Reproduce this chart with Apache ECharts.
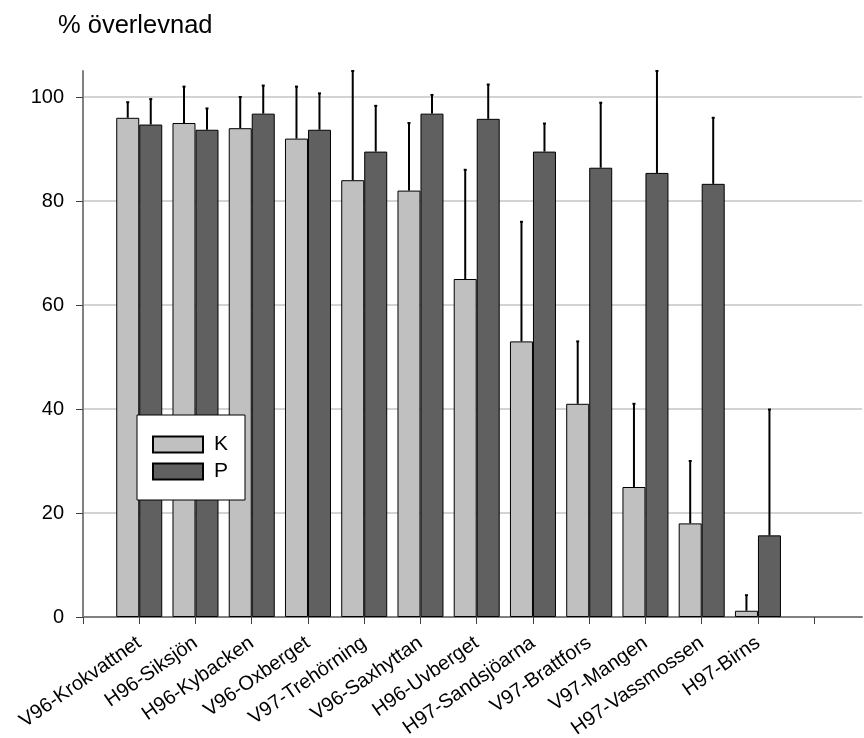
<!DOCTYPE html>
<html>
<head>
<meta charset="utf-8">
<title>% överlevnad</title>
<script src="https://cdn.jsdelivr.net/npm/echarts@6/dist/echarts.min.js"></script>
<style>
  html, body { margin: 0; padding: 0; background: #fff; }
  #chart { width: 864px; height: 738px; }
</style>
</head>
<body>
<div id="chart"></div>
<script>
// Sites (x positions 0..11 on the category scale)
const sites = [
  'V96-Krokvattnet', 'H96-Siksjön', 'H96-Kybacken', 'V96-Oxberget',
  'V97-Trehörning', 'V96-Saxhyttan', 'H96-Uvberget', 'H97-Sandsjöarna',
  'V97-Brattfors', 'V97-Mangen', 'H97-Vassmossen', 'H97-Birns'
];

// Survival (%) per site, group K and group P
const kMean = [96, 95, 94, 92, 84, 82, 65, 53, 41, 25, 18, 1.2];
const kErr  = [3, 7, 6, 10, 21, 13, 21, 23, 12, 16, 12, 3];
const pMean = [94.7, 93.7, 96.8, 93.7, 89.5, 96.8, 95.8, 89.5, 86.4, 85.4, 83.3, 15.7];
const pErr  = [4.9, 4.1, 5.4, 7, 8.8, 3.6, 6.6, 5.4, 12.5, 19.6, 12.7, 24.2];

// Y axis tick values
const yTicks = [0, 20, 40, 60, 80, 100];

const FONT = '"Liberation Sans", Arial, Helvetica, sans-serif';
const BAR_W = 23;

const xTicks = [-1].concat(sites.map((_, i) => i), [sites.length]);
const xLabels = sites.map((_, i) => i);

function pairs(vals) { return vals.map((v, i) => [i, v]); }
function errData(means, errs) { return means.map((m, i) => [i, m, errs[i]]); }

// Upward error whisker with a tiny cap, offset to the centre of its bar
function errorRenderer(shift) {
  return function (params, api) {
    const x = api.value(0);
    const m = api.value(1);
    const e = api.value(2);
    const base = api.coord([x, m]);
    const top = api.coord([x, m + e]);
    const cx = base[0] + shift;
    const lineStyle = { stroke: '#000', lineWidth: 2 };
    return {
      type: 'group',
      children: [
        { type: 'line', shape: { x1: cx, y1: base[1], x2: cx, y2: top[1] }, style: lineStyle },
        { type: 'line', shape: { x1: cx - 1.5, y1: top[1], x2: cx + 1.5, y2: top[1] }, style: lineStyle }
      ]
    };
  };
}

const chart = echarts.init(document.getElementById('chart'), null, { renderer: 'canvas' });

chart.setOption({
  animation: false,
  backgroundColor: '#fff',
  textStyle: { fontFamily: FONT, color: '#000' },
  title: {
    text: '% överlevnad',
    left: 58,
    top: 13,
    padding: 0,
    textStyle: { fontFamily: FONT, fontSize: 25.5, fontWeight: 'normal', color: '#000' }
  },
  legend: {
    orient: 'vertical',
    left: 137,
    top: 415,
    padding: [19, 17, 18, 15],
    itemWidth: 50,
    itemHeight: 16,
    itemGap: 6,
    icon: 'rect',
    backgroundColor: '#fff',
    borderColor: '#000',
    borderWidth: 1,
    borderRadius: 0,
    data: ['K', 'P'],
    textStyle: { fontFamily: FONT, fontSize: 21, color: '#000', lineHeight: 20, padding: [0, 0, 0, 6] }
  },
  grid: { left: 83, right: 2, top: 71, bottom: 121, containLabel: false, outerBoundsMode: 'none' },
  xAxis: {
    type: 'value',
    min: -1,
    max: 12.85,
    interval: 1,
    axisLine: { show: true, onZero: false, lineStyle: { color: '#808080', width: 2 } },
    axisTick: { show: true, length: 7, customValues: xTicks, lineStyle: { color: '#404040', width: 1 } },
    splitLine: { show: false },
    axisLabel: {
      customValues: xLabels,
      rotate: 35,
      margin: 24,
      fontFamily: FONT,
      fontSize: 20,
      color: '#000',
      formatter: v => sites[Math.round(v)] || ''
    }
  },
  yAxis: {
    type: 'value',
    min: 0,
    max: 105,
    interval: 20,
    axisLine: { show: true, onZero: false, lineStyle: { color: '#808080', width: 2 } },
    axisTick: { show: true, length: 7, customValues: yTicks, lineStyle: { color: '#404040', width: 1 } },
    axisLabel: { customValues: yTicks, margin: 19, fontFamily: FONT, fontSize: 20, color: '#000' },
    splitLine: { show: true, lineStyle: { color: '#c4c4c4', width: 1.5 } }
  },
  series: [
    {
      name: 'K',
      type: 'bar',
      barWidth: BAR_W,
      barGap: '0%',
      data: pairs(kMean),
      itemStyle: { color: '#c0c0c0', borderColor: '#000', borderWidth: 1 },
      z: 2
    },
    {
      name: 'P',
      type: 'bar',
      barWidth: BAR_W,
      barGap: '0%',
      data: pairs(pMean),
      itemStyle: { color: '#606060', borderColor: '#000', borderWidth: 1 },
      z: 2
    },
    {
      name: 'K-fel',
      type: 'custom',
      renderItem: errorRenderer(-BAR_W / 2),
      data: errData(kMean, kErr),
      encode: { x: 0, y: 1 },
      z: 3,
      silent: true
    },
    {
      name: 'P-fel',
      type: 'custom',
      renderItem: errorRenderer(BAR_W / 2),
      data: errData(pMean, pErr),
      encode: { x: 0, y: 1 },
      z: 3,
      silent: true
    }
  ]
});
</script>
</body>
</html>
